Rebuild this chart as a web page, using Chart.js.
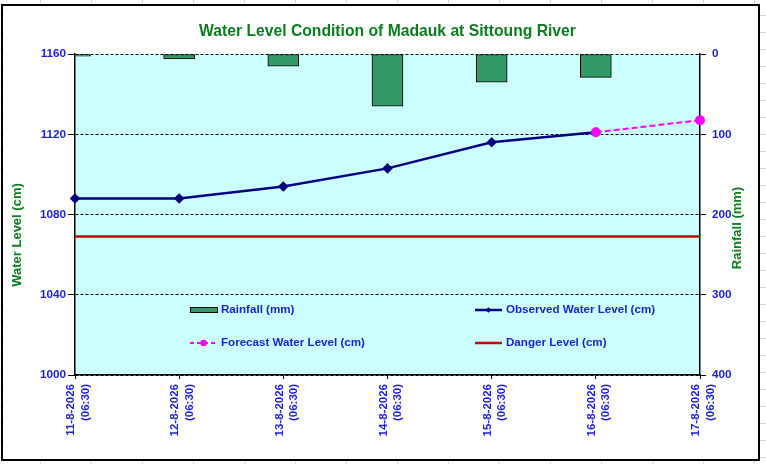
<!DOCTYPE html>
<html>
<head>
<meta charset="utf-8">
<script src="https://cdn.jsdelivr.net/npm/chart.js@4.4.1/dist/chart.umd.min.js"></script>
<style>
  body {
    margin: 0;
    width: 766px;
    height: 464px;
    background-color: #fff;
    background-image: linear-gradient(to right, #d9d9d9 1px, transparent 1px),
                      linear-gradient(to bottom, #d9d9d9 1px, transparent 1px);
    background-size: 51px 17px;
    background-position: 40px 0, 0 15px;
  }
  #frame {
    position: absolute;
    left: 1px;
    top: 4px;
    width: 759px;
    height: 457px;
    border: 2px solid #000;
    box-sizing: border-box;
    background: #fff;
  }
</style>
</head>
<body>
<div id="frame"><canvas id="levelChart"></canvas></div>
<script>
var labels = [
    ["11-8-2026", "(06:30)"],
    ["12-8-2026", "(06:30)"],
    ["13-8-2026", "(06:30)"],
    ["14-8-2026", "(06:30)"],
    ["15-8-2026", "(06:30)"],
    ["16-8-2026", "(06:30)"],
    ["17-8-2026", "(06:30)"]
];
var rainfall = [2.5, 6, 15, 65, 35, 29, null];
var observed = [1088, 1088, 1094, 1103, 1116, 1121, null];
var forecast = [null, null, null, null, null, 1121, 1127];
var danger = [1069, 1069, 1069, 1069, 1069, 1069, 1069];
var levelTicks = [1000, 1040, 1080, 1120, 1160];
var rainTicks = [0, 100, 200, 300, 400];

var chartTitle = "Water Level Condition of Madauk at Sittoung River";
var leftTitle = "Water Level (cm)";
var rightTitle = "Rainfall (mm)";

var FONT = "Arial, 'Liberation Sans', sans-serif";
var BLUE = "#1c22d4";
var GREEN = "#0b7d1e";

// plot background, legend inside the plot and the two axis titles
var decor = {
    id: 'decor',
    beforeDraw: function (chart) {
        var a = chart.chartArea, ctx = chart.ctx;
        ctx.save();
        ctx.fillStyle = '#ccffff';
        ctx.fillRect(a.left, a.top, a.right - a.left, a.bottom - a.top);
        ctx.restore();
    },
    afterDraw: function (chart) {
        var ctx = chart.ctx;
        var cols = [187, 472], rows = [304, 337], sw = 27;
        ctx.save();
        chart.data.datasets.forEach(function (ds, i) {
            var x = cols[i % 2], y = rows[Math.floor(i / 2)];
            if (ds.type === 'bar') {
                ctx.fillStyle = ds.backgroundColor;
                ctx.fillRect(x, y - 3, sw, 5);
                ctx.strokeStyle = '#000';
                ctx.lineWidth = 1;
                ctx.strokeRect(x + 0.5, y - 2.5, sw, 5);
            } else {
                ctx.strokeStyle = ds.borderColor;
                ctx.lineWidth = ds.borderWidth;
                ctx.setLineDash(ds.borderDash ? [4, 3] : []);
                ctx.beginPath();
                ctx.moveTo(x, y);
                ctx.lineTo(x + sw, y);
                ctx.stroke();
                ctx.setLineDash([]);
                var cx = x + sw / 2, r = ds.pointRadius * 0.8;
                ctx.fillStyle = ds.borderColor;
                if (ds.pointStyle === 'rectRot' && r) {
                    ctx.beginPath();
                    ctx.moveTo(cx, y - r); ctx.lineTo(cx + r, y);
                    ctx.lineTo(cx, y + r); ctx.lineTo(cx - r, y);
                    ctx.closePath(); ctx.fill();
                } else if (ds.pointStyle === 'circle' && r) {
                    ctx.beginPath();
                    ctx.arc(cx, y, r, 0, Math.PI * 2);
                    ctx.fill();
                }
            }
            ctx.fillStyle = BLUE;
            ctx.font = "bold 11.6px " + FONT;
            ctx.textBaseline = 'middle';
            ctx.textAlign = 'left';
            ctx.fillText(ds.label, x + sw + 4, y);
        });

        ctx.fillStyle = GREEN;
        ctx.font = "bold 13px " + FONT;
        ctx.textAlign = 'center';
        ctx.textBaseline = 'middle';
        ctx.save();
        ctx.translate(14, 229);
        ctx.rotate(-Math.PI / 2);
        ctx.fillText(leftTitle, 0, 0);
        ctx.restore();
        ctx.save();
        ctx.translate(734, 222);
        ctx.rotate(-Math.PI / 2);
        ctx.fillText(rightTitle, 0, 0);
        ctx.restore();
        ctx.restore();
    }
};

var ctx = document.getElementById("levelChart").getContext('2d');
var myChart = new Chart(ctx, {
    data: {
        labels: labels,
        datasets: [
            {
                type: 'bar',
                label: "Rainfall (mm)",
                data: rainfall,
                yAxisID: 'y1',
                backgroundColor: '#339966',
                borderColor: '#000',
                borderWidth: 1,
                borderSkipped: false,
                barThickness: 31,
                order: 5
            },
            {
                type: 'line',
                label: "Observed Water Level (cm)",
                data: observed,
                yAxisID: 'y',
                borderColor: '#000080',
                backgroundColor: '#000080',
                borderWidth: 2.5,
                pointStyle: 'rectRot',
                pointRadius: 3.5,
                pointBackgroundColor: '#000080',
                pointBorderColor: '#000080',
                tension: 0,
                clip: false,
                order: 2
            },
            {
                type: 'line',
                label: "Forecast Water Level (cm)",
                data: forecast,
                yAxisID: 'y',
                borderColor: '#ff00ff',
                backgroundColor: '#ff00ff',
                borderWidth: 2,
                borderDash: [6, 3],
                pointStyle: 'circle',
                pointRadius: 4,
                pointBackgroundColor: '#ff00ff',
                pointBorderColor: '#ff00ff',
                tension: 0,
                clip: false,
                order: 1
            },
            {
                type: 'line',
                label: "Danger Level (cm)",
                data: danger,
                yAxisID: 'y',
                borderColor: '#cc0000',
                backgroundColor: '#cc0000',
                borderWidth: 2.5,
                pointRadius: 0,
                tension: 0,
                order: 3
            }
        ]
    },
    options: {
        responsive: true,
        maintainAspectRatio: false,
        animation: false,
        devicePixelRatio: 1,
        layout: { padding: 0 },
        plugins: {
            legend: { display: false },
            tooltip: { enabled: false },
            title: {
                display: true,
                text: chartTitle,
                color: GREEN,
                fullSize: false,
                font: { family: FONT, size: 15.7, weight: 'bold' },
                padding: { top: 16.6, bottom: 12.6 }
            }
        },
        scales: {
            x: {
                type: 'category',
                offset: false,
                grid: { offset: false, drawOnChartArea: false, drawTicks: true, tickLength: 4, color: '#000' },
                border: { display: true, color: '#000', width: 1.5 },
                ticks: {
                    autoSkip: false,
                    maxRotation: 90,
                    minRotation: 90,
                    color: BLUE,
                    padding: 5,
                    labelOffset: -4,
                    font: { family: FONT, size: 11.5, weight: 'bold', lineHeight: 1.25 }
                },
                afterFit: function (s) { s.height = 84; }
            },
            y: {
                position: 'left',
                min: levelTicks[0],
                max: levelTicks[levelTicks.length - 1],
                grid: { color: '#000', lineWidth: 1, drawTicks: true, tickLength: 7 },
                border: { display: true, color: '#000', width: 1.5, dash: [3, 2] },
                ticks: {
                    stepSize: levelTicks[1] - levelTicks[0],
                    format: { useGrouping: false },
                    color: BLUE,
                    padding: 2,
                    font: { family: FONT, size: 11.7, weight: 'bold' }
                },
                afterFit: function (s) { s.width = 72; }
            },
            y1: {
                position: 'right',
                reverse: true,
                min: rainTicks[0],
                max: rainTicks[rainTicks.length - 1],
                grid: { drawOnChartArea: false, drawTicks: true, tickLength: 6, color: '#000' },
                border: { display: true, color: '#000', width: 1.5 },
                ticks: {
                    stepSize: rainTicks[1] - rainTicks[0],
                    format: { useGrouping: false },
                    color: BLUE,
                    padding: 6,
                    font: { family: FONT, size: 11.7, weight: 'bold' }
                },
                afterFit: function (s) { s.width = 58; }
            }
        }
    },
    plugins: [decor]
});
</script>
</body>
</html>
